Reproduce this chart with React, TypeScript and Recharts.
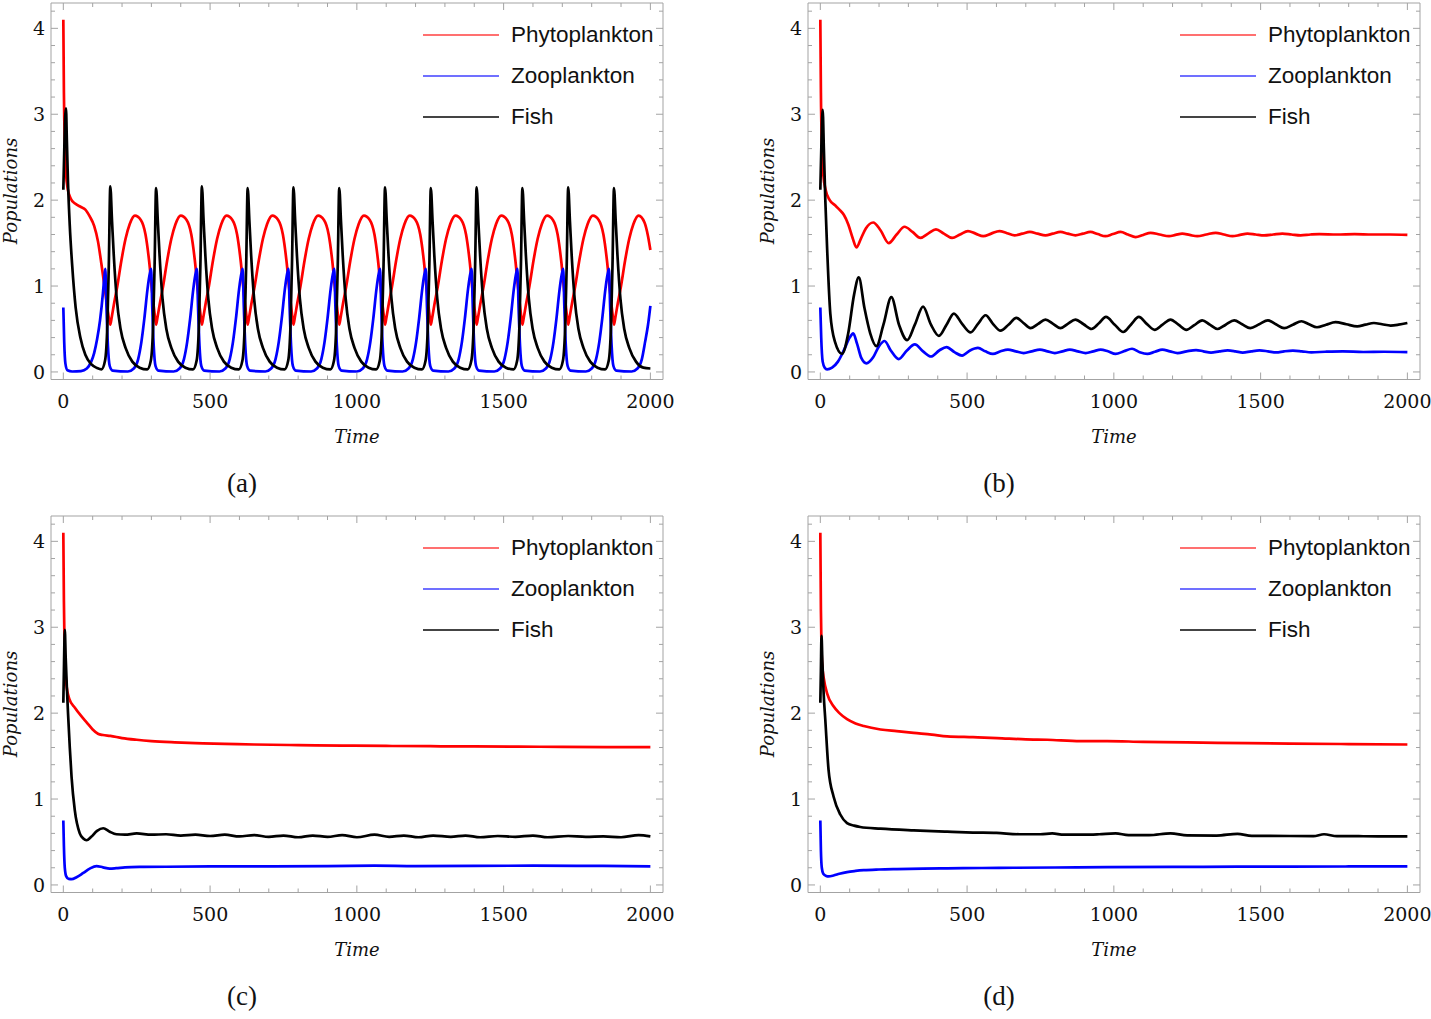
import React from 'react';
import { LineChart, Line, XAxis, YAxis, ReferenceLine } from 'recharts';

type Pair = [number, number];

// ---------- (a) sustained oscillations ----------
const phytoA: Pair[] = [
  [0, 4.1], [2, 3.25], [5, 2.65], [9, 2.32], [15, 2.13], [25, 2.02], [40, 1.96], [60, 1.92], [75, 1.89], [90, 1.81], [105, 1.7], [118, 1.52], [130, 1.25], [142, 0.95], [152, 0.7],
  [160, 0.55], [164, 0.62], [172, 0.78], [184, 1.0], [198, 1.3], [212, 1.55], [226, 1.72], [244, 1.82], [264, 1.77], [280, 1.6], [292, 1.3], [303, 0.92], [312, 0.65],
  [316, 0.55], [320, 0.62], [328, 0.78], [340, 1.0], [354, 1.3], [368, 1.55], [382, 1.72], [400, 1.82], [420, 1.77], [436, 1.6], [448, 1.3], [459, 0.92], [468, 0.65],
  [472, 0.55], [476, 0.62], [484, 0.78], [496, 1.0], [510, 1.3], [524, 1.55], [538, 1.72], [556, 1.82], [576, 1.77], [592, 1.6], [604, 1.3], [615, 0.92], [624, 0.65],
  [628, 0.55], [632, 0.62], [640, 0.78], [652, 1.0], [666, 1.3], [680, 1.55], [694, 1.72], [712, 1.82], [732, 1.77], [748, 1.6], [760, 1.3], [771, 0.92], [780, 0.65],
  [784, 0.55], [788, 0.62], [796, 0.78], [808, 1.0], [822, 1.3], [836, 1.55], [850, 1.72], [868, 1.82], [888, 1.77], [904, 1.6], [916, 1.3], [927, 0.92], [936, 0.65],
  [940, 0.55], [944, 0.62], [952, 0.78], [964, 1.0], [978, 1.3], [992, 1.55], [1006, 1.72], [1024, 1.82], [1044, 1.77], [1060, 1.6], [1072, 1.3], [1083, 0.92], [1092, 0.65],
  [1096, 0.55], [1100, 0.62], [1108, 0.78], [1120, 1.0], [1134, 1.3], [1148, 1.55], [1162, 1.72], [1180, 1.82], [1200, 1.77], [1216, 1.6], [1228, 1.3], [1239, 0.92], [1248, 0.65],
  [1252, 0.55], [1256, 0.62], [1264, 0.78], [1276, 1.0], [1290, 1.3], [1304, 1.55], [1318, 1.72], [1336, 1.82], [1356, 1.77], [1372, 1.6], [1384, 1.3], [1395, 0.92], [1404, 0.65],
  [1408, 0.55], [1412, 0.62], [1420, 0.78], [1432, 1.0], [1446, 1.3], [1460, 1.55], [1474, 1.72], [1492, 1.82], [1512, 1.77], [1528, 1.6], [1540, 1.3], [1551, 0.92], [1560, 0.65],
  [1564, 0.55], [1568, 0.62], [1576, 0.78], [1588, 1.0], [1602, 1.3], [1616, 1.55], [1630, 1.72], [1648, 1.82], [1668, 1.77], [1684, 1.6], [1696, 1.3], [1707, 0.92], [1716, 0.65],
  [1720, 0.55], [1724, 0.62], [1732, 0.78], [1744, 1.0], [1758, 1.3], [1772, 1.55], [1786, 1.72], [1804, 1.82], [1824, 1.77], [1840, 1.6], [1852, 1.3], [1863, 0.92], [1872, 0.65],
  [1876, 0.55], [1880, 0.62], [1888, 0.78], [1900, 1.0], [1914, 1.3], [1928, 1.55], [1942, 1.72], [1960, 1.82], [1980, 1.74], [1992, 1.58], [2000, 1.42],
];

const zooA: Pair[] = [
  [0, 0.75], [3, 0.35], [7, 0.1], [14, 0.02], [30, 0.005], [60, 0.01], [80, 0.04], [95, 0.12], [105, 0.22], [115, 0.38], [125, 0.6], [135, 0.92], [139, 1.08],
  [143, 1.2], [147, 0.75], [152, 0.3], [158, 0.07], [168, 0.015], [220, 0.005], [240, 0.04], [255, 0.15], [266, 0.35], [276, 0.62], [287, 0.97], [295, 1.15],
  [299, 1.2], [303, 0.75], [308, 0.3], [314, 0.07], [324, 0.015], [376, 0.005], [396, 0.04], [411, 0.15], [422, 0.35], [432, 0.62], [443, 0.97], [451, 1.15],
  [455, 1.2], [459, 0.75], [464, 0.3], [470, 0.07], [480, 0.015], [532, 0.005], [552, 0.04], [567, 0.15], [578, 0.35], [588, 0.62], [599, 0.97], [607, 1.15],
  [611, 1.2], [615, 0.75], [620, 0.3], [626, 0.07], [636, 0.015], [688, 0.005], [708, 0.04], [723, 0.15], [734, 0.35], [744, 0.62], [755, 0.97], [763, 1.15],
  [767, 1.2], [771, 0.75], [776, 0.3], [782, 0.07], [792, 0.015], [844, 0.005], [864, 0.04], [879, 0.15], [890, 0.35], [900, 0.62], [911, 0.97], [919, 1.15],
  [923, 1.2], [927, 0.75], [932, 0.3], [938, 0.07], [948, 0.015], [1000, 0.005], [1020, 0.04], [1035, 0.15], [1046, 0.35], [1056, 0.62], [1067, 0.97], [1075, 1.15],
  [1079, 1.2], [1083, 0.75], [1088, 0.3], [1094, 0.07], [1104, 0.015], [1156, 0.005], [1176, 0.04], [1191, 0.15], [1202, 0.35], [1212, 0.62], [1223, 0.97], [1231, 1.15],
  [1235, 1.2], [1239, 0.75], [1244, 0.3], [1250, 0.07], [1260, 0.015], [1312, 0.005], [1332, 0.04], [1347, 0.15], [1358, 0.35], [1368, 0.62], [1379, 0.97], [1387, 1.15],
  [1391, 1.2], [1395, 0.75], [1400, 0.3], [1406, 0.07], [1416, 0.015], [1468, 0.005], [1488, 0.04], [1503, 0.15], [1514, 0.35], [1524, 0.62], [1535, 0.97], [1543, 1.15],
  [1547, 1.2], [1551, 0.75], [1556, 0.3], [1562, 0.07], [1572, 0.015], [1624, 0.005], [1644, 0.04], [1659, 0.15], [1670, 0.35], [1680, 0.62], [1691, 0.97], [1699, 1.15],
  [1703, 1.2], [1707, 0.75], [1712, 0.3], [1718, 0.07], [1728, 0.015], [1780, 0.005], [1800, 0.04], [1815, 0.15], [1826, 0.35], [1836, 0.62], [1847, 0.97], [1855, 1.15],
  [1859, 1.2], [1863, 0.75], [1868, 0.3], [1874, 0.07], [1884, 0.015], [1936, 0.005], [1956, 0.04], [1971, 0.15], [1982, 0.35], [1992, 0.55], [2000, 0.77],
];

const fishA: Pair[] = [
  [0, 2.12], [3, 2.55], [6, 2.95], [9, 3.07], [12, 2.7], [16, 2.2], [22, 1.7], [30, 1.25], [42, 0.75], [58, 0.4], [75, 0.2], [95, 0.09], [115, 0.045],
  [130, 0.03], [142, 0.13], [150, 0.55], [155, 1.25], [160, 2.16], [166, 1.75], [172, 1.35], [182, 0.85], [195, 0.5], [212, 0.28], [235, 0.12], [260, 0.05],
  [286, 0.03], [298, 0.13], [306, 0.55], [311, 1.25], [316, 2.14], [322, 1.75], [328, 1.35], [338, 0.85], [351, 0.5], [368, 0.28], [391, 0.12], [416, 0.05],
  [442, 0.03], [454, 0.13], [462, 0.55], [467, 1.25], [472, 2.16], [478, 1.75], [484, 1.35], [494, 0.85], [507, 0.5], [524, 0.28], [547, 0.12], [572, 0.05],
  [598, 0.03], [610, 0.13], [618, 0.55], [623, 1.25], [628, 2.14], [634, 1.75], [640, 1.35], [650, 0.85], [663, 0.5], [680, 0.28], [703, 0.12], [728, 0.05],
  [754, 0.03], [766, 0.13], [774, 0.55], [779, 1.25], [784, 2.15], [790, 1.75], [796, 1.35], [806, 0.85], [819, 0.5], [836, 0.28], [859, 0.12], [884, 0.05],
  [910, 0.03], [922, 0.13], [930, 0.55], [935, 1.25], [940, 2.14], [946, 1.75], [952, 1.35], [962, 0.85], [975, 0.5], [992, 0.28], [1015, 0.12], [1040, 0.05],
  [1066, 0.03], [1078, 0.13], [1086, 0.55], [1091, 1.25], [1096, 2.15], [1102, 1.75], [1108, 1.35], [1118, 0.85], [1131, 0.5], [1148, 0.28], [1171, 0.12], [1196, 0.05],
  [1222, 0.03], [1234, 0.13], [1242, 0.55], [1247, 1.25], [1252, 2.14], [1258, 1.75], [1264, 1.35], [1274, 0.85], [1287, 0.5], [1304, 0.28], [1327, 0.12], [1352, 0.05],
  [1378, 0.03], [1390, 0.13], [1398, 0.55], [1403, 1.25], [1408, 2.15], [1414, 1.75], [1420, 1.35], [1430, 0.85], [1443, 0.5], [1460, 0.28], [1483, 0.12], [1508, 0.05],
  [1534, 0.03], [1546, 0.13], [1554, 0.55], [1559, 1.25], [1564, 2.14], [1570, 1.75], [1576, 1.35], [1586, 0.85], [1599, 0.5], [1616, 0.28], [1639, 0.12], [1664, 0.05],
  [1690, 0.03], [1702, 0.13], [1710, 0.55], [1715, 1.25], [1720, 2.15], [1726, 1.75], [1732, 1.35], [1742, 0.85], [1755, 0.5], [1772, 0.28], [1795, 0.12], [1820, 0.05],
  [1846, 0.03], [1858, 0.13], [1866, 0.55], [1871, 1.25], [1876, 2.14], [1882, 1.75], [1888, 1.35], [1898, 0.85], [1911, 0.5], [1928, 0.28], [1951, 0.12], [1976, 0.05],
  [2000, 0.04],
];

// ---------- (b) damped oscillations ----------
const phytoB: Pair[] = [
  [0, 4.1], [2, 3.25], [5, 2.65], [10, 2.3], [18, 2.12], [32, 2.0], [50, 1.94], [65, 1.89], [80, 1.83], [95, 1.72], [110, 1.56], [123, 1.45],
  [138, 1.55], [155, 1.67], [180, 1.74], [205, 1.65], [233, 1.5], [260, 1.6], [287, 1.69], [314, 1.63], [341, 1.56], [367, 1.61], [394, 1.66],
  [421, 1.61], [449, 1.56], [476, 1.6], [503, 1.64], [529, 1.61], [555, 1.58], [582, 1.61], [610, 1.64], [636, 1.615], [662, 1.59], [688, 1.61],
  [714, 1.63], [740, 1.61], [767, 1.59], [792, 1.61], [818, 1.63], [843, 1.61], [869, 1.59], [895, 1.61], [920, 1.63], [945, 1.605], [971, 1.58],
  [997, 1.605], [1023, 1.63], [1048, 1.6], [1074, 1.57], [1100, 1.595], [1125, 1.62], [1156, 1.6], [1188, 1.58], [1210, 1.595], [1233, 1.61],
  [1258, 1.595], [1284, 1.58], [1315, 1.6], [1347, 1.62], [1375, 1.6], [1404, 1.58], [1430, 1.595], [1455, 1.61], [1483, 1.6], [1512, 1.59],
  [1543, 1.6], [1574, 1.61], [1605, 1.6], [1636, 1.59], [1670, 1.6], [1700, 1.605], [1760, 1.6], [1820, 1.605], [1880, 1.6], [1940, 1.6], [2000, 1.595],
];

const zooB: Pair[] = [
  [0, 0.75], [3, 0.4], [8, 0.12], [15, 0.05], [23, 0.03], [40, 0.05], [60, 0.12], [80, 0.25], [100, 0.4], [112, 0.45], [125, 0.33], [140, 0.16],
  [157, 0.1], [180, 0.17], [200, 0.3], [219, 0.36], [240, 0.25], [267, 0.15], [295, 0.25], [322, 0.32], [350, 0.24], [377, 0.18], [405, 0.25],
  [430, 0.29], [457, 0.23], [483, 0.19], [510, 0.25], [537, 0.28], [562, 0.24], [588, 0.21], [614, 0.24], [639, 0.26], [666, 0.24], [693, 0.22],
  [720, 0.24], [748, 0.26], [774, 0.24], [799, 0.22], [825, 0.24], [850, 0.26], [877, 0.24], [904, 0.22], [930, 0.24], [955, 0.26], [980, 0.24],
  [1006, 0.21], [1034, 0.24], [1062, 0.27], [1088, 0.23], [1114, 0.21], [1140, 0.235], [1165, 0.26], [1191, 0.24], [1217, 0.22], [1248, 0.24],
  [1280, 0.255], [1305, 0.24], [1331, 0.225], [1360, 0.24], [1388, 0.25], [1414, 0.24], [1439, 0.225], [1468, 0.24], [1496, 0.25], [1525, 0.24],
  [1553, 0.227], [1580, 0.24], [1610, 0.248], [1640, 0.24], [1673, 0.228], [1720, 0.235], [1780, 0.24], [1850, 0.232], [1920, 0.235], [2000, 0.23],
];

const fishB: Pair[] = [
  [0, 2.12], [4, 2.7], [8, 3.05], [12, 2.6], [17, 2.0], [23, 1.45], [34, 0.68], [50, 0.35], [74, 0.21], [95, 0.45], [115, 0.9], [131, 1.1],
  [150, 0.75], [170, 0.45], [191, 0.3], [215, 0.55], [242, 0.87], [268, 0.55], [296, 0.37], [322, 0.55], [350, 0.76], [377, 0.55], [404, 0.42],
  [430, 0.55], [455, 0.68], [483, 0.56], [512, 0.46], [537, 0.56], [563, 0.66], [588, 0.56], [614, 0.48], [641, 0.55], [668, 0.63], [692, 0.57],
  [716, 0.51], [742, 0.56], [767, 0.61], [793, 0.56], [818, 0.51], [843, 0.56], [869, 0.61], [897, 0.555], [924, 0.5], [950, 0.57], [973, 0.64],
  [1003, 0.55], [1032, 0.465], [1058, 0.55], [1085, 0.64], [1112, 0.56], [1139, 0.49], [1166, 0.55], [1193, 0.61], [1220, 0.55], [1247, 0.49],
  [1274, 0.545], [1301, 0.6], [1327, 0.55], [1353, 0.5], [1381, 0.55], [1410, 0.6], [1437, 0.555], [1465, 0.51], [1495, 0.555], [1525, 0.6],
  [1552, 0.555], [1580, 0.51], [1610, 0.55], [1639, 0.59], [1665, 0.555], [1692, 0.52], [1723, 0.55], [1755, 0.58], [1792, 0.555], [1829, 0.53],
  [1857, 0.55], [1886, 0.57], [1914, 0.555], [1943, 0.54], [1970, 0.55], [2000, 0.57],
];

// ---------- (c) ----------
const phytoC: Pair[] = [
  [0, 4.1], [2, 3.3], [5, 2.7], [10, 2.35], [20, 2.17], [40, 2.06], [60, 1.97], [80, 1.89], [100, 1.81], [118, 1.76], [135, 1.745], [160, 1.735],
  [200, 1.71], [250, 1.69], [300, 1.675], [380, 1.66], [450, 1.65], [550, 1.643], [650, 1.635], [800, 1.628], [950, 1.622], [1100, 1.618],
  [1250, 1.615], [1400, 1.612], [1550, 1.61], [1700, 1.607], [1850, 1.605], [2000, 1.605],
];

const zooC: Pair[] = [
  [0, 0.75], [2, 0.45], [5, 0.2], [10, 0.1], [18, 0.07], [28, 0.068], [45, 0.09], [68, 0.14], [90, 0.19], [113, 0.22], [135, 0.205], [158, 0.19],
  [180, 0.195], [210, 0.205], [260, 0.21], [350, 0.212], [500, 0.215], [700, 0.217], [900, 0.22], [1060, 0.225], [1200, 0.22], [1400, 0.222],
  [1600, 0.224], [1800, 0.222], [2000, 0.215],
];

const fishC: Pair[] = [
  [0, 2.12], [2, 2.5], [5, 2.97], [8, 2.65], [12, 2.3], [16, 2.0], [22, 1.6], [28, 1.26], [39, 0.87], [56, 0.6], [68, 0.54], [79, 0.52], [95, 0.56],
  [115, 0.63], [136, 0.66], [158, 0.62], [181, 0.59], [210, 0.585], [250, 0.6], [300, 0.585], [350, 0.59], [400, 0.575], [450, 0.585], [500, 0.57],
  [550, 0.585], [600, 0.565], [650, 0.58], [700, 0.56], [750, 0.575], [800, 0.555], [850, 0.575], [900, 0.56], [950, 0.58], [1000, 0.555],
  [1060, 0.585], [1110, 0.56], [1160, 0.575], [1210, 0.555], [1260, 0.575], [1320, 0.56], [1370, 0.575], [1420, 0.555], [1480, 0.57], [1540, 0.56],
  [1600, 0.575], [1650, 0.555], [1720, 0.57], [1780, 0.56], [1840, 0.565], [1900, 0.555], [1960, 0.58], [2000, 0.565],
];

// ---------- (d) ----------
const phytoD: Pair[] = [
  [0, 4.1], [2, 3.2], [4, 2.75], [6, 2.58], [12, 2.4], [23, 2.23], [45, 2.08], [65, 2.0], [91, 1.93], [120, 1.88], [148, 1.85], [205, 1.81],
  [260, 1.79], [318, 1.77], [380, 1.75], [432, 1.73], [520, 1.72], [602, 1.71], [700, 1.695], [773, 1.69], [886, 1.675], [977, 1.675],
  [1100, 1.665], [1250, 1.66], [1455, 1.65], [1600, 1.645], [1800, 1.64], [2000, 1.635],
];

const zooD: Pair[] = [
  [0, 0.75], [2, 0.4], [5, 0.2], [10, 0.13], [20, 0.105], [28, 0.1], [45, 0.11], [65, 0.13], [91, 0.15], [120, 0.163], [148, 0.172], [200, 0.18],
  [261, 0.185], [350, 0.19], [432, 0.193], [550, 0.197], [659, 0.2], [800, 0.203], [977, 0.208], [1200, 0.21], [1421, 0.213], [1600, 0.214],
  [1800, 0.215], [2000, 0.217],
];

const fishD: Pair[] = [
  [0, 2.12], [2, 2.5], [4, 2.9], [7, 2.6], [11, 2.25], [17, 1.92], [28, 1.34], [45, 1.03], [68, 0.82], [91, 0.72], [115, 0.69], [136, 0.675],
  [205, 0.655], [318, 0.635], [432, 0.62], [520, 0.61], [600, 0.605], [680, 0.59], [750, 0.59], [790, 0.6], [830, 0.585], [900, 0.585],
  [950, 0.59], [1006, 0.6], [1050, 0.58], [1120, 0.58], [1193, 0.6], [1250, 0.578], [1350, 0.575], [1421, 0.595], [1470, 0.572], [1600, 0.57],
  [1680, 0.568], [1716, 0.59], [1760, 0.568], [1850, 0.567], [2000, 0.565],
];

const TIME_TICKS = [0, 100, 200, 300, 400, 500, 600, 700, 800, 900, 1000, 1100, 1200, 1300, 1400, 1500, 1600, 1700, 1800, 1900, 2000];
const POP_TICKS = [0, 0.2, 0.4, 0.6, 0.8, 1, 1.2, 1.4, 1.6, 1.8, 2, 2.2, 2.4, 2.6, 2.8, 3, 3.2, 3.4, 3.6, 3.8, 4, 4.2];
const SERIES_NAMES = ['Phytoplankton', 'Zooplankton', 'Fish'];
const T_DOMAIN: [number, number] = [-42, 2043];
const P_DOMAIN: [number, number] = [-0.088, 4.295];

const FRAME = '#a3a3a3';
const SERIF = '"DejaVu Serif", serif';
const W = 674;
const H = 462;
const PLOT_L = 51;
const PLOT_R = 663;
const PLOT_T = 3;
const PLOT_B = 379.5;

const rows = (p: Pair[]) => p.map(([t, v]) => ({ t, v }));
const isMajorT = (v: number) => v % 500 === 0;
const isMajorP = (v: number) => Math.abs(v - Math.round(v)) < 1e-6;

// bottom ticks point inward; the matching tick on the top edge is drawn with it
const BottomTick = (p: any) => {
  const major = isMajorT(p.payload.value);
  const len = major ? 7 : 4;
  return (
    <g>
      <line x1={p.x} x2={p.x} y1={p.y} y2={p.y - len} stroke={FRAME} />
      <line x1={p.x} x2={p.x} y1={PLOT_T} y2={PLOT_T + len} stroke={FRAME} />
      {major && (
        <text x={p.x} y={p.y + 28} textAnchor="middle" fontFamily={SERIF} fontSize={19} fill="#111">
          {p.payload.value}
        </text>
      )}
    </g>
  );
};

const LeftTick = (p: any) => {
  const major = isMajorP(p.payload.value);
  const len = major ? 7 : 4;
  return (
    <g>
      <line x1={p.x} x2={p.x + len} y1={p.y} y2={p.y} stroke={FRAME} />
      <line x1={PLOT_R} x2={PLOT_R - len} y1={p.y} y2={p.y} stroke={FRAME} />
      {major && (
        <text x={p.x - 6} y={p.y} dy="0.36em" textAnchor="end" fontFamily={SERIF} fontSize={19} fill="#111">
          {Math.round(p.payload.value)}
        </text>
      )}
    </g>
  );
};

const TimeTitle = () => (
  <text x={(PLOT_L + PLOT_R) / 2} y={443} textAnchor="middle" fontFamily={SERIF} fontStyle="italic" fontSize={18} fill="#111">
    Time
  </text>
);

const PopTitle = () => (
  <text x={17} y={191} transform="rotate(-90 17 191)" textAnchor="middle" fontFamily={SERIF} fontStyle="italic" fontSize={18} fill="#111">
    Populations
  </text>
);

const LEGEND_COLORS = ['#ff7070', '#7070ff', '#444444'];
const LEGEND_Y = [35, 76, 117];

type PanelProps = { left: number; top: number; caption: string; phyto: Pair[]; zoo: Pair[]; fish: Pair[] };

function Panel({ left, top, caption, phyto, zoo, fish }: PanelProps) {
  return (
    <div style={{ position: 'absolute', left, top, width: W, height: 505 }}>
      <LineChart width={W} height={H} margin={{ top: PLOT_T, right: W - PLOT_R, bottom: 0, left: 0 }}>
        <XAxis
          xAxisId="b" dataKey="t" type="number" domain={T_DOMAIN} allowDataOverflow
          ticks={TIME_TICKS} interval={0} tickSize={0} tickMargin={0} tickLine={false}
          axisLine={{ stroke: FRAME }} height={H - PLOT_B} tick={BottomTick} label={TimeTitle}
        />
        <YAxis
          yAxisId="l" type="number" domain={P_DOMAIN} allowDataOverflow
          ticks={POP_TICKS} interval={0} tickSize={0} tickMargin={0} tickLine={false}
          axisLine={{ stroke: FRAME }} width={PLOT_L} tick={LeftTick} label={PopTitle}
        />
        {/* top and right edges of the frame */}
        <ReferenceLine xAxisId="b" yAxisId="l" y={P_DOMAIN[1]} stroke={FRAME} />
        <ReferenceLine xAxisId="b" yAxisId="l" x={T_DOMAIN[1]} stroke={FRAME} />
        <Line xAxisId="b" yAxisId="l" data={rows(phyto)} dataKey="v" type="monotone" stroke="#ff0000" strokeWidth={2.7} dot={false} isAnimationActive={false} />
        <Line xAxisId="b" yAxisId="l" data={rows(zoo)} dataKey="v" type="monotone" stroke="#0000ff" strokeWidth={2.7} dot={false} isAnimationActive={false} />
        <Line xAxisId="b" yAxisId="l" data={rows(fish)} dataKey="v" type="monotone" stroke="#000000" strokeWidth={2.7} dot={false} isAnimationActive={false} />
      </LineChart>

      {SERIES_NAMES.map((name, i) => (
        <div
          key={name}
          style={{ position: 'absolute', left: 423, top: LEGEND_Y[i] - 15, height: 30, display: 'flex', alignItems: 'center' }}
        >
          <div style={{ width: 76, height: 2, background: LEGEND_COLORS[i] }} />
          <span style={{ marginLeft: 12, fontFamily: '"Liberation Sans", Arial, sans-serif', fontSize: 22.5, color: '#111', whiteSpace: 'nowrap' }}>
            {name}
          </span>
        </div>
      ))}

      <div
        style={{ position: 'absolute', left: 182, width: 120, top: 469, textAlign: 'center', fontFamily: '"Liberation Serif", serif', fontSize: 27, lineHeight: '28px', color: '#111' }}
      >
        {caption}
      </div>
    </div>
  );
}

export default function App() {
  return (
    <div style={{ position: 'absolute', left: 0, top: 0, width: 1431, height: 1019, overflow: 'hidden', background: '#fff' }}>
      <Panel left={0} top={0} caption="(a)" phyto={phytoA} zoo={zooA} fish={fishA} />
      <Panel left={757} top={0} caption="(b)" phyto={phytoB} zoo={zooB} fish={fishB} />
      <Panel left={0} top={513} caption="(c)" phyto={phytoC} zoo={zooC} fish={fishC} />
      <Panel left={757} top={513} caption="(d)" phyto={phytoD} zoo={zooD} fish={fishD} />
    </div>
  );
}
